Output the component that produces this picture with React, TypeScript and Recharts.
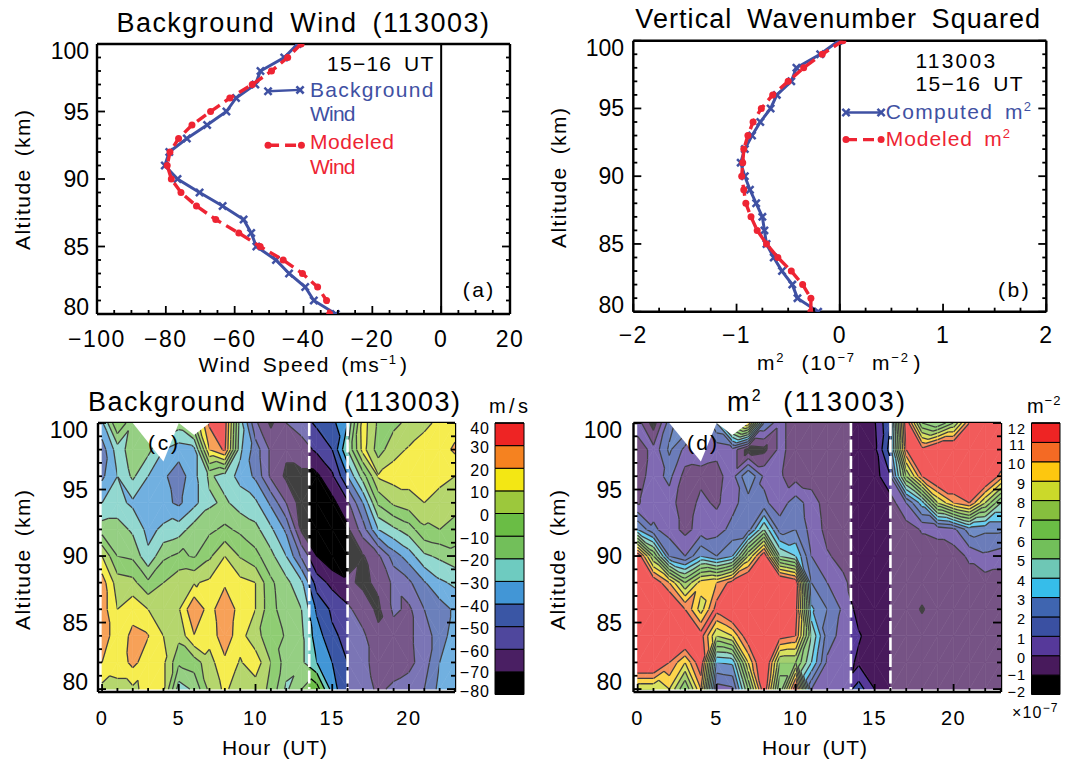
import { ReactNode } from 'react';
import { ReferenceArea, ReferenceLine, Scatter, ScatterChart, XAxis, YAxis } from 'recharts';

const PAGE_W = 1065;
const PAGE_H = 760;
const FONT = '"Liberation Sans", Arial, sans-serif';
const BLUE = '#3f51a3';
const RED = '#ee2433';

const altitudes = [100, 99, 98, 97, 96, 95, 94, 93, 92, 91, 90, 89, 88, 87, 86, 85, 84, 83, 82, 81, 80];
const windBlue = [-41.7, -45.6, -52.5, -54, -59.6, -62.4, -68, -73.9, -79, -80.3, -76.6, -70.2, -63.5, -57.4, -55.2, -53.7, -48, -44.2, -39.5, -37, -30.6];
const windRed = [-40.7, -44.6, -49.3, -54.9, -61.4, -67, -72.4, -76.3, -78.8, -79.6, -78.4, -75.6, -71.1, -65.5, -58.8, -52.6, -45.9, -40.3, -35.9, -33.3, -32.4];
const m2Blue = [-0.01, -0.19, -0.42, -0.47, -0.61, -0.67, -0.77, -0.85, -0.92, -0.96, -0.92, -0.87, -0.81, -0.75, -0.73, -0.71, -0.64, -0.56, -0.46, -0.41, -0.21];
const m2Red = [0.03, -0.17, -0.35, -0.5, -0.65, -0.76, -0.84, -0.89, -0.93, -0.94, -0.95, -0.93, -0.91, -0.86, -0.8, -0.71, -0.6, -0.47, -0.36, -0.28, -0.28];

// contour grids: one value per hour 0-23
const gridAltitudes = [80, 82, 84, 86, 88, 90, 92, 94, 96, 98, 100];
const wind80 = [7, 8, 8, 13, 12, -25, -18, 3, 12, 4, 5, -2, -22, -10, -5, -35, -50, -55, -62, -58, -55, -50, -37, -35];
const wind82 = [20, 13, 23, 14, 12, -8, -5, 6, 18, 9, 16, 0, -15, -18, -30, -40, -50, -58, -63, -65, -63, -55, -40, -36];
const wind84 = [25, 15, 22, 20.5, 10, 3, 19.5, 14, 26, 14, 3, -5, -11, -18, -35, -48, -53, -58, -68, -65, -62, -55, -45, -35];
const wind86 = [25, 10, 17, 10, 4, 9, 29.5, 15, 29.5, 15, 10, -7, -15, -20, -42, -52, -58, -65, -72, -58, -62, -50, -45, -38];
const wind88 = [25, 5, 3, -8, 0, 7, 9, 12, 18, 13, 10, -8, -17, -28, -55, -63, -68, -72, -68, -58, -52, -41, -32, -28];
const wind90 = [10, -10, -12, -28, -12, -8, -11, -2, 10, -1, -7, -17, -30, -52, -70, -78, -75, -71, -62, -45, -35, -22, -18, -14];
const wind92 = [-15, -15, -22, -33, -28, -25, -15, -12, -8, -12, -17, -28, -42, -72, -78, -78, -72, -55, -30, -22, -15, -2, 0, -3];
const wind94 = [-30, -27, -32, -36, -37, -42, -33, -22, -18, -25, -28, -42, -60, -75, -78, -73, -62, -40, -8, 2, 6, 10, 6, 3];
const wind96 = [-42, -30, -18, -30, -38, -46, -33, -18, -25, -33, -42, -62, -72, -72, -72, -62, -40, -15, 11, 14, 14, 14, 13, 10];
const wind98 = [-45, -25, -15, -17, -30, -35, -33, 20, 32, -28, -45, -62, -68, -65, -58, -50, -20, 14, -5, 7, 11, 14, 15, 22];
const wind100 = [-32, 0, -18, -15, -20, -15, 0, 32, 35, -25, -58, -72, -60, -55, -48, -43, -30, 15, -2, -3, 3, 8, 12, 15];
const windGrid = [wind80, wind82, wind84, wind86, wind88, wind90, wind92, wind94, wind96, wind98, wind100];

const wave80 = [8, 8, 9, 6, 10, 0.5, 0.8, 6, 12, 5, 12, 1, 0.5, 0.3, 1.5, 0, -0.5, -0.5, -0.5, -0.5, -0.5, -0.5, -0.5, -0.5];
const wave82 = [13, 13, 11, 9, 12, 3, 3.2, 9, 13, 7, 7, 4, 0.8, 0.5, -0.2, -0.5, -0.5, -0.5, -0.5, -0.5, -0.5, -0.5, -0.5, -0.5];
const wave84 = [13, 13, 13, 13, 11.5, 8, 9, 12, 13, 11.5, 11, 5, 1.5, 0.6, 0.1, -0.5, -0.5, -0.5, -0.5, -0.5, -0.5, -0.5, -0.5, -0.5];
const wave86 = [13, 13, 13, 11, 8.5, 11.5, 13, 13, 13, 13, 11.5, 3.2, 2, 0.8, -0.4, -0.5, -0.5, -0.5, -1.1, -0.5, -0.5, -0.5, -0.5, -0.5];
const wave88 = [13, 12, 10, 7, 9.5, 10, 11.5, 13, 13, 13, 12, 2, 1, 0.2, -0.5, -0.5, -0.5, -0.5, -0.5, -0.5, -0.5, -0.5, -0.5, -0.5];
const wave90 = [12, 7, 2, 1, 3, 2, 3, 8, 12, 5, 4, 1, 0.1, -0.3, -0.5, -0.5, -0.5, -0.5, -0.5, -0.5, -0.5, 0.2, 0.8, 0.5];
const wave92 = [3, 1.2, 0.5, -0.3, 0.4, 0.6, 1.3, 1.5, 5, 1.5, 2, 0.6, -0.3, -0.5, -0.5, -0.5, -0.5, -0.5, 0.1, 0.3, 0.7, 2.5, 2.2, 2.2];
const wave94 = [-0.1, 0.5, 0.5, -0.7, 0.3, -0.2, 0.7, 1.5, 1.2, 0.5, 1.5, 0.5, -0.5, -0.5, -0.5, -0.5, -0.5, 1, 3.5, 8, 10, 11, 8, 5];
const wave96 = [-0.5, 0.5, 1.3, -0.4, -0.3, -0.4, 0.6, 3, 0.8, 0.1, -0.4, -0.5, -0.5, -0.5, -0.5, -0.5, 1, 7, 11, 13, 13, 13, 13, 10.5];
const wave98 = [-0.5, 0.3, 2.2, 0.7, 0.5, 0.3, 0.6, -1.5, -1.3, 0.3, -0.5, -0.5, -0.5, -0.5, -0.5, -0.3, 2.5, 11, 11.5, 13, 13, 13, 13, 13];
const wave100 = [0.5, -1.5, 1.5, 3, 0.5, 3, 8, 10, 2, 0.3, -0.5, -0.5, -0.5, -0.5, -0.5, -0.1, 2, 12, 6, 5, 7, 11, 12, 12];
const waveGrid = [wave80, wave82, wave84, wave86, wave88, wave90, wave92, wave94, wave96, wave98, wave100];

const windLevels = [-80, -70, -60, -50, -40, -30, -20, -10, 0, 10, 20, 30, 40];
const windColors = ['#000000', '#4a1f63', '#4f479d', '#3a56a5', '#4296d6', '#6ecbc0', '#72bf5a', '#6abd45', '#9cc83c', '#f3e714', '#f58220', '#ee2424'];
const waveLevels = [-2, -1, 0, 1, 2, 3, 4, 5, 6, 7, 8, 9, 10, 11, 12];
const waveColors = ['#000000', '#481a5c', '#56399a', '#3a50a2', '#3f65b0', '#36bdea', '#6ec7b5', '#72bf5a', '#6abd45', '#86bf3e', '#cbd92a', '#fdc70f', '#f46a24', '#ee2424'];

// white gaps at the top of the contours (hour, altitude)
const holeLeft = [[2, 100], [4, 97.1], [5, 100]];
const holeRight = [[5, 100], [6, 99.1], [7, 100]];

const range = (from: number, to: number, step: number) => {
  const out: number[] = [];
  for (let v = from; v <= to + 1e-9; v += step) out.push(Number(v.toFixed(4)));
  return out;
};
const profile = (values: number[]) => values.map((x, i) => ({ x, y: altitudes[i] }));
const label = (v: number) => String(v).replace('-', '\u2212');

type Box = { left: number; right: number; top: number; bottom: number };

function T(props: { x: number; y: number; size?: number; fill?: string; anchor?: 'start' | 'middle' | 'end'; len?: number; rotate?: boolean; spacing?: number; children: ReactNode }) {
  const { x, y, size = 21, fill = '#000', anchor = 'start', len, rotate, spacing, children } = props;
  return (
    <text
      x={x}
      y={y}
      fontSize={size}
      fontFamily={FONT}
      fill={fill}
      textAnchor={anchor}
      textLength={len}
      letterSpacing={spacing}
      lengthAdjust="spacing"
      transform={rotate ? `rotate(-90 ${x} ${y})` : undefined}
      xmlSpace="preserve"
    >
      {children}
    </text>
  );
}

const Sup = ({ children, size = 13, back = 16 }: { children: ReactNode; size?: number; back?: number }) => (
  <>
    <tspan dy={-back * 0.5} fontSize={size}>{children}</tspan>
    <tspan dy={back * 0.5}>{'\u200a'}</tspan>
  </>
);

// four sided frame with inward ticks, labels drawn by the bottom and left axes
function frameAxes(o: {
  xDomain: number[];
  yDomain: number[];
  xTicks: number[];
  yTicks: number[];
  xMajor: number[];
  yMajor: number[];
  xLabelY: number;
  xSize?: number;
  ySize?: number;
  yLabelRight: number;
}) {
  const { xMajor, yMajor, xLabelY, xSize = 23, ySize = 23, yLabelRight } = o;
  const isMajor = (list: number[], v: number) => list.some((m) => Math.abs(m - v) < 1e-6);
  const common = { type: 'number' as const, allowDataOverflow: true, interval: 0 as const, tickLine: false, tickSize: 0, tickMargin: 0 };
  const axisLine = { stroke: '#000', strokeWidth: 2.4 };
  return [
    <XAxis key="b" {...common} xAxisId={0} dataKey="x" domain={o.xDomain} ticks={o.xTicks} height={1} axisLine={axisLine}
      tick={(p: any) => {
        const big = isMajor(xMajor, p.payload.value);
        return (
          <g>
            <line x1={p.x} x2={p.x} y1={p.y} y2={p.y - (big ? 8 : 4)} stroke="#000" strokeWidth={1.8} />
            {big && <T x={p.x} y={xLabelY} size={xSize} anchor="middle" spacing={1.5}>{label(p.payload.value)}</T>}
          </g>
        );
      }} />,
    <XAxis key="t" {...common} xAxisId="top" orientation="top" domain={o.xDomain} ticks={o.xTicks} height={1} axisLine={axisLine}
      tick={(p: any) => <line x1={p.x} x2={p.x} y1={p.y} y2={p.y + (isMajor(xMajor, p.payload.value) ? 8 : 4)} stroke="#000" strokeWidth={1.8} />} />,
    <YAxis key="l" {...common} yAxisId={0} dataKey="y" domain={o.yDomain} ticks={o.yTicks} width={1} axisLine={axisLine}
      tick={(p: any) => {
        const v = p.payload.value;
        const big = isMajor(yMajor, v);
        const shift = v === 100 ? 7 : v === 80 ? -7 : 0;
        return (
          <g>
            <line x1={p.x} x2={p.x + (big ? 8 : 4)} y1={p.y} y2={p.y} stroke="#000" strokeWidth={1.8} />
            {big && <T x={yLabelRight} y={p.y + 8 + shift} size={ySize} anchor="end">{label(v)}</T>}
          </g>
        );
      }} />,
    <YAxis key="r" {...common} yAxisId="right" orientation="right" domain={o.yDomain} ticks={o.yTicks} width={1} axisLine={axisLine}
      tick={(p: any) => <line x1={p.x} x2={p.x - (isMajor(yMajor, p.payload.value) ? 8 : 4)} y1={p.y} y2={p.y} stroke="#000" strokeWidth={1.8} />} />,
  ];
}

// the 1px axis bands are taken back out of the margins so the plot sits exactly on box
const chartProps = (box: Box) => ({
  width: PAGE_W,
  height: PAGE_H,
  margin: { left: box.left - 1, top: box.top - 1, right: PAGE_W - box.right - 1, bottom: PAGE_H - box.bottom - 1 },
  style: { position: 'absolute' as const, left: 0, top: 0 },
});

const Cross = (color: string) => (p: any) => (
  <g stroke={color} strokeWidth={2.5}>
    <line x1={p.cx - 3.6} x2={p.cx + 3.6} y1={p.cy - 3.6} y2={p.cy + 3.6} />
    <line x1={p.cx - 3.6} x2={p.cx + 3.6} y1={p.cy + 3.6} y2={p.cy - 3.6} />
  </g>
);
const Dot = (color: string) => (p: any) => <circle cx={p.cx} cy={p.cy} r={3.5} fill={color} />;

function ProfilePanel(o: {
  box: Box;
  xDomain: number[];
  xTicks: number[];
  xMajor: number[];
  blue: { x: number; y: number }[];
  red: { x: number; y: number }[];
  legendBlue: { x: number; y: number }[];
  legendRed: { x: number; y: number }[];
  xLabelY: number;
  yLabelRight: number;
}) {
  const blueLine = { stroke: BLUE, strokeWidth: 3 };
  const redLine = { stroke: RED, strokeWidth: 3.4, strokeDasharray: '11 6' };
  return (
    <ScatterChart {...chartProps(o.box)}>
      {frameAxes({
        xDomain: o.xDomain,
        yDomain: [80, 100],
        xTicks: o.xTicks,
        yTicks: range(80, 100, 1),
        xMajor: o.xMajor,
        yMajor: range(80, 100, 5),
        xLabelY: o.xLabelY,
        yLabelRight: o.yLabelRight,
      })}
      <ReferenceLine x={0} stroke="#000" strokeWidth={2} />
      <Scatter data={o.blue} line={blueLine} shape={Cross(BLUE)} isAnimationActive={false} />
      <Scatter data={o.red} line={redLine} shape={Dot(RED)} isAnimationActive={false} />
      <Scatter data={o.legendBlue} line={{ ...blueLine, strokeWidth: 2.4 }} shape={Cross(BLUE)} isAnimationActive={false} />
      <Scatter data={o.legendRed} line={redLine} shape={Dot(RED)} isAnimationActive={false} />
    </ScatterChart>
  );
}

type V = { x: number; y: number; v: number };
const clip = (poly: V[], level: number, above: boolean) => {
  const keep = (p: V) => (above ? p.v >= level : p.v <= level);
  const out: V[] = [];
  poly.forEach((a, i) => {
    const b = poly[(i + 1) % poly.length];
    if (keep(a)) out.push(a);
    if (keep(a) !== keep(b)) {
      const t = (level - a.v) / (b.v - a.v);
      out.push({ x: a.x + (b.x - a.x) * t, y: a.y + (b.y - a.y) * t, v: level });
    }
  });
  return out;
};

function ContourPanel(o: { box: Box; grid: number[][]; levels: number[]; colors: string[]; xLabelY: number; yLabelRight: number }) {
  const { box, grid, levels, colors } = o;
  const xDomain = [-0.265, 23];
  const yDomain = [79.78, 100];
  const pxHour = (box.right - box.left) / (xDomain[1] - xDomain[0]);
  const pxKm = (box.bottom - box.top) / (yDomain[1] - yDomain[0]);

  const cells: { x: number; y: number; h: number; row: number }[] = [];
  for (let row = 0; row < gridAltitudes.length - 1; row++) {
    for (let h = 0; h < 23; h++) cells.push({ x: h, y: gridAltitudes[row], h, row });
  }

  const Cell = (p: any) => {
    const { h, row } = p.payload;
    const w = pxHour;
    const ht = (gridAltitudes[row + 1] - gridAltitudes[row]) * pxKm;
    const a: V = { x: p.cx, y: p.cy, v: grid[row][h] };
    const b: V = { x: p.cx + w, y: p.cy, v: grid[row][h + 1] };
    const c: V = { x: p.cx + w, y: p.cy - ht, v: grid[row + 1][h + 1] };
    const d: V = { x: p.cx, y: p.cy - ht, v: grid[row + 1][h] };
    const tris = Math.abs(a.v - c.v) <= Math.abs(b.v - d.v) ? [[a, b, c], [a, c, d]] : [[a, b, d], [b, c, d]];
    const parts: ReactNode[] = [];
    const lines: ReactNode[] = [];
    tris.forEach((tri, t) => {
      colors.forEach((color, i) => {
        let poly = tri;
        if (i > 0) poly = clip(poly, levels[i], true);
        if (poly.length && i < colors.length - 1) poly = clip(poly, levels[i + 1], false);
        if (poly.length < 3) return;
        parts.push(
          <polygon key={`${t}-${i}`} points={poly.map((q) => `${q.x},${q.y}`).join(' ')} fill={color} stroke={color} strokeWidth={0.6} />,
        );
      });
      levels.slice(1, -1).forEach((lv, i) => {
        const hit: V[] = [];
        tri.forEach((q, k) => {
          const r = tri[(k + 1) % 3];
          if (q.v >= lv !== r.v >= lv) {
            const s = (lv - q.v) / (r.v - q.v);
            hit.push({ x: q.x + (r.x - q.x) * s, y: q.y + (r.y - q.y) * s, v: lv });
          }
        });
        if (hit.length === 2) {
          lines.push(<line key={`l${t}-${i}`} x1={hit[0].x} y1={hit[0].y} x2={hit[1].x} y2={hit[1].y} stroke="#000" strokeWidth={1.3} />);
        }
      });
    });
    return <g>{parts}{lines}</g>;
  };

  const washes = [
    { x: 0, y: 100, hours: 13.5 },
    { x: 16, y: 100, hours: 7 },
  ];
  const Wash = (p: any) => (
    <rect x={p.cx} y={p.cy} width={p.payload.hours * pxHour} height={20 * pxKm} fill="#fff" fillOpacity={0.25} />
  );
  const holes = [holeLeft, holeRight].map((pts) => ({ x: pts[0][0], y: pts[0][1], pts }));
  const Hole = (p: any) => (
    <polygon
      fill="#fff"
      points={p.payload.pts
        .map((q: number[]) => `${p.cx + (q[0] - p.payload.x) * pxHour},${p.cy + (p.payload.y - q[1]) * pxKm}`)
        .join(' ')}
    />
  );
  const dashLine = { stroke: '#fff', strokeWidth: 2.6, strokeDasharray: '13 3.5' };
  const noMark = () => <g />;

  return (
    <ScatterChart {...chartProps(box)}>
      {frameAxes({
        xDomain,
        yDomain,
        xTicks: range(0, 23, 1),
        yTicks: range(80, 100, 1),
        xMajor: [0, 5, 10, 15, 20],
        yMajor: range(80, 100, 5),
        xLabelY: o.xLabelY,
        xSize: 20,
        ySize: 23,
        yLabelRight: o.yLabelRight,
      })}
      <Scatter data={cells} shape={Cell} isAnimationActive={false} />
      <Scatter data={washes} shape={Wash} isAnimationActive={false} />
      <Scatter data={holes} shape={Hole} isAnimationActive={false} />
      <Scatter data={[{ x: 13.5, y: 100 }, { x: 13.5, y: 80 }]} line={dashLine} shape={noMark} isAnimationActive={false} />
      <Scatter data={[{ x: 16, y: 100 }, { x: 16, y: 80 }]} line={dashLine} shape={noMark} isAnimationActive={false} />
    </ScatterChart>
  );
}

function ColorBar(o: { box: Box; levels: number[]; colors: string[]; labelRight: number; size: number; secondShift: number }) {
  const { box, levels, colors } = o;
  const lo = levels[0];
  const hi = levels[levels.length - 1];
  const rows = colors.map((_, i) => ({ x: 0.5, y: levels[i] }));
  return (
    <ScatterChart {...chartProps(box)}>
      <XAxis xAxisId={0} type="number" dataKey="x" domain={[0, 1]} hide height={1} />
      <XAxis xAxisId="top" orientation="top" type="number" domain={[0, 1]} ticks={range(0, 1, 0.05)} interval={0} height={1}
        axisLine={{ stroke: '#000', strokeWidth: 1.5 }} tickLine={false} tickSize={0} tickMargin={0}
        tick={(p: any) => <line x1={p.x} x2={p.x} y1={p.y} y2={p.y + 2.5} stroke="#000" strokeWidth={1} />} />
      <YAxis yAxisId={0} type="number" dataKey="y" domain={[lo, hi]} ticks={levels} interval={0} width={1} axisLine={false} tickLine={false} tickSize={0} tickMargin={0}
        tick={(p: any) => {
          const v = p.payload.value;
          const shift = v === hi ? 5 : v === lo ? -4 : v === levels[1] ? o.secondShift : 1.5;
          return <T x={o.labelRight} y={p.y + 6 + shift} size={o.size} anchor="end" spacing={1}>{label(v)}</T>;
        }} />
      {colors.map((c, i) => (
        <ReferenceArea key={c + i} x1={0} x2={1} y1={levels[i]} y2={levels[i + 1]} fill={c} fillOpacity={1} stroke="#000" strokeWidth={1} ifOverflow="visible" />
      ))}
      <Scatter data={rows} shape={() => <g />} isAnimationActive={false} />
    </ScatterChart>
  );
}

export default function App() {
  return (
    <div style={{ position: 'absolute', left: 0, top: 0, width: PAGE_W, height: PAGE_H, background: '#fff', overflow: 'hidden' }}>
      <ProfilePanel
        box={{ left: 97, right: 510, top: 44, bottom: 314 }}
        xDomain={[-100, 20]}
        xTicks={range(-100, 20, 5)}
        xMajor={range(-100, 20, 20)}
        blue={profile(windBlue)}
        red={profile(windRed)}
        legendBlue={[{ x: -50.3, y: 96.5 }, { x: -41, y: 96.6 }]}
        legendRed={[{ x: -50.3, y: 92.5 }, { x: -40.6, y: 92.5 }]}
        xLabelY={347}
        yLabelRight={89}
      />
      <ProfilePanel
        box={{ left: 633.3, right: 1046.3, top: 40.7, bottom: 311.7 }}
        xDomain={[-2, 2]}
        xTicks={range(-2, 2, 0.25)}
        xMajor={range(-2, 2, 1)}
        blue={profile(m2Blue)}
        red={profile(m2Red)}
        legendBlue={[{ x: 0.06, y: 94.7 }, { x: 0.4, y: 94.7 }]}
        legendRed={[{ x: 0.06, y: 92.7 }, { x: 0.4, y: 92.7 }]}
        xLabelY={343}
        yLabelRight={624}
      />
      <ContourPanel box={{ left: 98, right: 455, top: 423, bottom: 692 }} grid={windGrid} levels={windLevels} colors={windColors} xLabelY={725} yLabelRight={88} />
      <ContourPanel box={{ left: 633.5, right: 1001, top: 423, bottom: 692 }} grid={waveGrid} levels={waveLevels} colors={waveColors} xLabelY={725} yLabelRight={622} />
      <ColorBar box={{ left: 495, right: 523, top: 423, bottom: 693.5 }} levels={windLevels} colors={windColors} labelRight={490} size={16} secondShift={0} />
      <ColorBar box={{ left: 1031.5, right: 1059, top: 423, bottom: 693.5 }} levels={waveLevels} colors={waveColors} labelRight={1026} size={14.5} secondShift={-1.5} />

      <svg width={PAGE_W} height={PAGE_H} style={{ position: 'absolute', left: 0, top: 0, pointerEvents: 'none' }}>
        <T x={116.4} y={32} size={27} len={372.6}>Background{'\u2002'}Wind{'\u2002'}(113003)</T>
        <T x={30.4} y={250} size={21} rotate len={140}>Altitude{'\u2002'}(km)</T>
        <T x={198.5} y={372} size={21} len={208.6}>Wind{'\u2002'}Speed{'\u2002'}(ms<Sup>−1</Sup>)</T>
        <T x={327} y={71} size={21} len={106.3}>15−16{'\u2002'}UT</T>
        <T x={309.9} y={97} size={21} fill={BLUE} len={123.5}>Background</T>
        <T x={309.9} y={121} size={21} fill={BLUE} len={45.6}>Wind</T>
        <T x={309.9} y={149} size={21} fill={RED} len={84}>Modeled</T>
        <T x={309.9} y={174} size={21} fill={RED} len={45.6}>Wind</T>
        <T x={462.8} y={297} size={21} len={30.4}>(a)</T>

        <T x={635.3} y={28} size={27} len={404.8}>Vertical{'\u2002'}Wavenumber{'\u2002'}Squared</T>
        <T x={565.8} y={248} size={21} rotate len={140}>Altitude{'\u2002'}(km)</T>
        <T x={757} y={370} size={21} len={163.5}>m<Sup>2</Sup>{'\u2002'}(10<Sup>−7</Sup>{'\u2002'}m<Sup>−2</Sup>)</T>
        <T x={915.4} y={68} size={21} len={79.7}>113003</T>
        <T x={915.4} y={91} size={21} len={107.3}>15−16{'\u2002'}UT</T>
        <T x={885.8} y={119} size={21} fill={BLUE} len={148.2}>Computed{'\u2002'}m<Sup>2</Sup></T>
        <T x={885.8} y={146} size={21} fill={RED} len={126.8}>Modeled{'\u2002'}m<Sup>2</Sup></T>
        <T x={998} y={297} size={21} len={30.7}>(b)</T>

        <T x={88} y={411} size={27} len={372}>Background{'\u2002'}Wind{'\u2002'}(113003)</T>
        <T x={30} y={630} size={21} rotate len={140}>Altitude{'\u2002'}(km)</T>
        <T x={222} y={755} size={21} len={105}>Hour{'\u2002'}(UT)</T>
        <T x={148} y={450} size={21} len={30}>(c)</T>
        <T x={489} y={413} size={20} len={39}>m/s</T>

        <T x={727} y={411} size={27} len={178}>m<Sup size={16} back={20}>2</Sup>{'\u2002'}(113003)</T>
        <T x={565} y={630} size={21} rotate len={140}>Altitude{'\u2002'}(km)</T>
        <T x={762} y={755} size={21} len={105}>Hour{'\u2002'}(UT)</T>
        <T x={687} y={450} size={21} len={30}>(d)</T>
        <T x={1027} y={413} size={20} len={36}>m<Sup>−2</Sup></T>
        <T x={1012} y={718} size={16} len={48}>×10<Sup size={12} back={12}>−7</Sup></T>
      </svg>
    </div>
  );
}
